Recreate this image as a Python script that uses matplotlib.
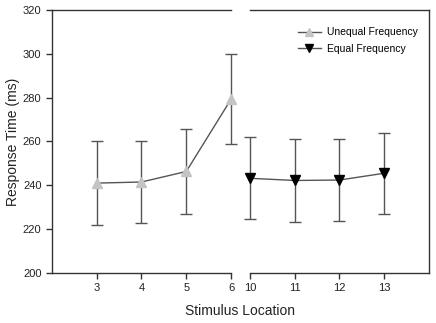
import matplotlib.pyplot as plt
from matplotlib.lines import Line2D

plt.rcParams['font.family'] = ['Liberation Sans', 'DejaVu Sans']

# Unequal frequency (locations 3-6)
loc_unequal = [3, 4, 5, 6]
rt_unequal = [241.0, 241.5, 246.3, 279.3]
err_unequal = [19.0, 18.5, 19.3, 20.5]

# Equal frequency (locations 10-13)
loc_equal = [10, 11, 12, 13]
rt_equal = [243.2, 242.2, 242.4, 245.5]
err_equal = [18.8, 18.9, 18.9, 18.5]

fig = plt.figure(figsize=(4.36, 3.23), dpi=100)
ax1 = fig.add_axes([0.119, 0.155, 0.411, 0.814])
ax2 = fig.add_axes([0.573, 0.155, 0.411, 0.814], sharey=ax1)

line_col = '#555555'
light = '#c4c4c4'

ax1.errorbar(loc_unequal, rt_unequal, yerr=err_unequal, color=line_col, ecolor=line_col,
             elinewidth=1, capsize=4, capthick=1, linewidth=1, marker='^', markersize=7,
             markerfacecolor=light, markeredgecolor=light, clip_on=False, zorder=3)
ax2.errorbar(loc_equal, rt_equal, yerr=err_equal, color=line_col, ecolor=line_col,
             elinewidth=1, capsize=4, capthick=1, linewidth=1, marker='v', markersize=7,
             markerfacecolor='black', markeredgecolor='black', clip_on=False, zorder=3)

ax1.set_xlim(2, 6)
ax2.set_xlim(10, 14)
ax1.set_ylim(200, 320)
ax1.set_xticks(loc_unequal)
ax2.set_xticks(loc_equal)
ax1.set_yticks(range(200, 321, 20))

for ax in (ax1, ax2):
    for s in ax.spines.values():
        s.set_color('#333333')
        s.set_linewidth(1)
    ax.tick_params(direction='out', length=4, width=1, color='#333333',
                   labelsize=8, labelcolor='#222222')
ax1.spines['right'].set_visible(False)
ax2.spines['left'].set_visible(False)
ax2.tick_params(axis='y', left=False, labelleft=False)

ax1.set_ylabel('Response Time (ms)', fontsize=10, color='#222222', labelpad=2)
fig.text(0.55, 0.025, 'Stimulus Location', ha='center', fontsize=10, color='#222222')

handles = [
    Line2D([], [], color=line_col, linewidth=1, marker='^', markersize=6,
           markerfacecolor=light, markeredgecolor=light),
    Line2D([], [], color=line_col, linewidth=1, marker='v', markersize=6,
           markerfacecolor='black', markeredgecolor='black'),
]
ax2.legend(handles, ['Unequal Frequency', 'Equal Frequency'], loc='upper right',
           frameon=False, fontsize=7.5, handlelength=2.2, handletextpad=0.6,
           labelspacing=0.6, bbox_to_anchor=(0.99, 0.97))

plt.savefig('out.png', dpi=100)
